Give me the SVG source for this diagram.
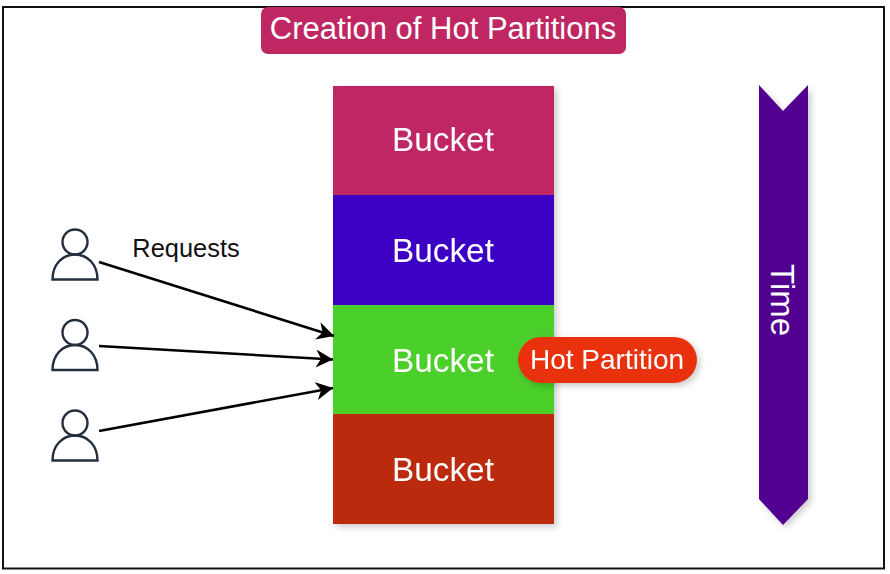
<svg xmlns="http://www.w3.org/2000/svg" width="890" height="574" viewBox="0 0 890 574">
<style>
text{font-family:"Liberation Sans",Arial,sans-serif;fill:#fff;text-anchor:middle}
.b{font-size:33.300px}
.u{fill:none;stroke:#232f3e;stroke-width:2.400}
.c{fill:none;stroke:#000;stroke-width:2.600;marker-end:url(#a)}
.s{filter:url(#sh)}
</style>
<defs>
<marker id="a" markerUnits="userSpaceOnUse" markerWidth="20" markerHeight="20" refX="17" refY="9" orient="auto"><path d="M0 0L17 9L0 18L5 9Z" fill="#000"/></marker>
<filter id="sh" x="-20%" y="-20%" width="140%" height="140%"><feDropShadow dx="3" dy="3" stdDeviation="3" flood-color="#000" flood-opacity=".2"/></filter>
</defs>
<rect width="890" height="574" fill="#fff"/>
<rect x="3" y="7" width="881" height="561.500" fill="none" stroke="#111" stroke-width="2"/>
<g id="title"><rect x="261" y="7" width="365" height="47" rx="7" fill="#bf2763"/><text x="443" y="39" font-size="31">Creation of Hot Partitions</text></g>
<g id="buckets" class="s">
<g id="bucket1"><rect x="333" y="86" width="221" height="110" fill="#bf2763"/><text class="b" x="443" y="151">Bucket</text></g>
<g id="bucket2"><rect x="333" y="195" width="221" height="110" fill="#3b00c4"/><text class="b" x="443" y="262">Bucket</text></g>
<g id="bucket3"><rect x="333" y="305" width="221" height="110" fill="#4ccf29"/><text class="b" x="443" y="372">Bucket</text></g>
<g id="bucket4"><rect x="333" y="414" width="221" height="110" fill="#bb290e"/><text class="b" x="443" y="481">Bucket</text></g>
</g>
<g id="hot" class="s"><rect x="518" y="337" width="179" height="46" rx="23" fill="#e9330f"/><text x="607" y="369" font-size="28">Hot Partition</text></g>
<g id="time"><path class="s" d="M759 85L783 111L808 85V499L783 525L759 499Z" fill="#51008f"/><text transform="translate(771 300) rotate(90)" font-size="33">Time</text></g>
<g id="user1"><circle class="u" cx="75" cy="242" r="12.500"/><path class="u" d="M52.500 279.500C52.500 265 62 254.500 75 254.500S97.500 265 97.500 279.500Z"/></g>
<g id="user2"><circle class="u" cx="75" cy="332.500" r="12.500"/><path class="u" d="M52.500 370C52.500 355.500 62 345 75 345S97.500 355.500 97.500 370Z"/></g>
<g id="user3"><circle class="u" cx="75" cy="423" r="12.500"/><path class="u" d="M52.500 460.500C52.500 446 62 435.500 75 435.500S97.500 446 97.500 460.500Z"/></g>
<g id="connectors">
<path class="c" d="M99 262L334 336"/>
<path class="c" d="M99 346L333 359.500"/>
<path class="c" d="M99 431L333 388"/>
</g>
<text x="186" y="257" font-size="25.400" style="fill:#111">Requests</text>
</svg>
